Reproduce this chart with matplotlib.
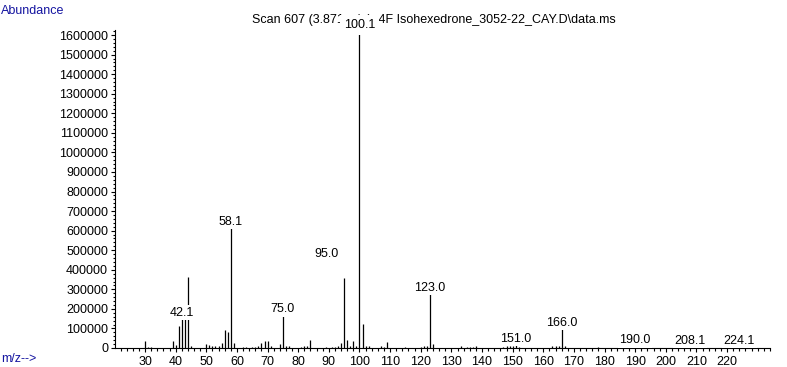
import matplotlib
matplotlib.use("Agg")
import matplotlib.pyplot as plt
from matplotlib.ticker import MultipleLocator, FixedLocator

# ---- data ----
peak_mz = [30, 31, 32, 39, 40, 41, 42, 43, 44, 45, 50, 51, 52, 53, 54, 55, 56, 57, 58, 59,
           62, 63, 65, 66, 67, 68, 69, 70, 71, 74, 75, 76, 77, 81, 82, 83, 84, 89, 91, 92,
           93, 94, 95, 96, 97, 98, 99, 100, 101, 102, 103, 107, 108, 109, 115, 120, 121, 122,
           123, 124, 133, 135, 136, 137, 138, 147, 148, 149, 150, 151, 152, 163, 164, 165,
           166, 167, 178, 190, 208, 224]
peak_abund = [35000, 5000, 4000, 35000, 15000, 112000, 148000, 148000, 363000, 10000,
              22000, 15000, 10000, 10000, 10000, 25000, 92000, 83000, 613000, 27000,
              5000, 5000, 5000, 5000, 8000, 27000, 35000, 35000, 8000, 20000, 164000, 12000,
              8000, 5000, 8000, 10000, 41000, 5000, 5000, 5000,
              10000, 25000, 358000, 40000, 12000, 35000, 8000, 1610000, 124000, 10000,
              8000, 10000, 5000, 32000, 5000, 5000, 8000, 12000,
              275000, 20000, 8000, 5000, 5000, 5000, 8000, 5000, 8000, 8000, 10000, 15000,
              5000, 8000, 8000, 12000, 97000, 12000, 3000, 6000, 5000, 3000]

label_mz = [42, 58, 75, 95, 100, 123, 151, 166, 190, 208, 224]
label_text = ["42.1", "58.1", "75.0", "95.0", "100.1", "123.0", "151.0", "166.0",
              "190.0", "208.1", "224.1"]

xtick_values = [30, 40, 50, 60, 70, 80, 90, 100, 110, 120, 130, 140, 150, 160, 170,
                180, 190, 200, 210, 220]
ytick_values = [0, 100000, 200000, 300000, 400000, 500000, 600000, 700000, 800000,
                900000, 1000000, 1100000, 1200000, 1300000, 1400000, 1500000, 1600000]

title_text = "Scan 607 (3.871 min): 4F Isohexedrone_3052-22_CAY.D\\data.ms"

# ---- figure ----
W, H, DPI = 787, 367, 100
fig = plt.figure(figsize=(W / DPI, H / DPI), dpi=DPI)
plt.rcParams['font.family'] = ['Liberation Sans', 'DejaVu Sans']

left_px, right_px, bottom_px, top_px = 115, 770, 348, 30
ax = fig.add_axes([left_px / W, 1 - bottom_px / H,
                   (right_px - left_px) / W, (bottom_px - top_px) / H])

ax.vlines(peak_mz, 0, peak_abund, color='black', linewidth=0.9, zorder=2)

ax.set_xlim(20.2, 234)
ax.set_ylim(0, 1626000)

for s in ['top', 'right']:
    ax.spines[s].set_visible(False)
for s in ['left', 'bottom']:
    ax.spines[s].set_linewidth(0.8)

ax.xaxis.set_major_locator(FixedLocator(xtick_values))
ax.xaxis.set_minor_locator(MultipleLocator(2))
ax.yaxis.set_major_locator(FixedLocator(ytick_values))
ax.yaxis.set_minor_locator(MultipleLocator(20000))
ax.set_xticklabels([str(v) for v in xtick_values])
ax.set_yticklabels([str(v) for v in ytick_values])
ax.tick_params(axis='both', which='major', length=3, width=0.8, labelsize=9, pad=2)
ax.tick_params(axis='both', which='minor', length=1.8, width=0.8)
ax.tick_params(axis='x', which='major', pad=3)

# peak labels
special_offsets = {"95.0": (-13, 15), "100.1": (0, 3.5)}
special_pad = {"100.1": 0.32}
abund_by_mz = dict(zip(peak_mz, peak_abund))
for mz, txt in zip(label_mz, label_text):
    dx, dy = special_offsets.get(txt, (0, 2.5))
    pad = special_pad.get(txt, 0.12)
    ax.annotate(txt, xy=(mz, abund_by_mz[mz]), xytext=(dx, dy),
                textcoords='offset points', ha='center', va='baseline',
                fontsize=9, color='black', zorder=6, annotation_clip=False,
                bbox=dict(boxstyle=f'square,pad={pad}', fc='white', ec='none'))

# title (drawn below the labels so that 100.1 covers part of it, as in the reference)
ax.text(252 / W, 1 - 23 / H, title_text, transform=fig.transFigure, fontsize=9,
        ha='left', va='baseline', zorder=1, clip_on=False)

fig.text(1 / W, 1 - 14 / H, "Abundance", color='#1414a0', fontsize=9,
         ha='left', va='baseline')
fig.text(1 / W, 1 - 362 / H, "m/z-->", color='#1414a0', fontsize=9,
         ha='left', va='baseline')

fig.savefig("out.png", dpi=DPI)
